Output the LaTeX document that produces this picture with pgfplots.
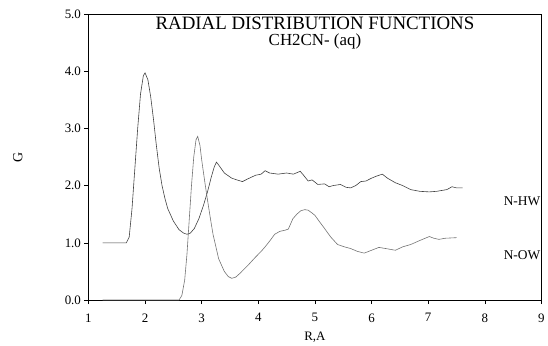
\documentclass[border=0pt]{standalone}
\usepackage{fontspec}
\setmainfont{Liberation Serif}
\usepackage{pgfplots}
\pgfplotsset{compat=1.18}
\begin{document}
\begin{tikzpicture}
\begin{axis}[
  width=456pt, height=288pt, scale only axis,
  xmin=1, xmax=9, ymin=0, ymax=5,
  xtick={1,...,9}, ytick={0,1,2,3,4,5},
  yticklabel style={/pgf/number format/.cd, fixed, fixed zerofill, precision=1},
  /pgf/number format/assume math mode=true,
  tick align=outside, xtick pos=bottom, ytick pos=left,
  major tick length=4pt,
  tick style={black, line width=0.5pt},
  axis line style={black, line width=0.5pt},
  ticklabel style={font=\fontsize{13}{14}\selectfont},
  xticklabel style={yshift=-6pt},
  xlabel={R,A}, ylabel={G},
  every axis x label/.style={at={(rel axis cs:0.5,0)}, anchor=center, yshift=-37pt, font=\fontsize{13}{14}\selectfont},
  every axis y label/.style={at={(rel axis cs:0,0.5)}, xshift=-71pt, anchor=center, rotate=90, font=\fontsize{14}{15}\selectfont},
  clip=false,
]
\addplot[black!75, line width=0.6pt] coordinates {
(1.25,1.0) (1.67,1.0) (1.72,1.1) (1.77,1.6) (1.82,2.3) (1.87,3.0) (1.92,3.6) (1.97,3.92) (2.0,3.97) (2.05,3.85) (2.1,3.55) (2.15,3.15) (2.2,2.7) (2.25,2.3) (2.3,2.0) (2.35,1.78) (2.4,1.6) (2.5,1.38) (2.6,1.23) (2.68,1.17) (2.74,1.15) (2.8,1.17) (2.87,1.25) (2.95,1.42) (3.03,1.65) (3.1,1.88) (3.17,2.15) (3.22,2.32) (3.26,2.41) (3.3,2.36) (3.4,2.22) (3.53,2.13) (3.62,2.1) (3.72,2.07) (3.82,2.12) (3.95,2.18) (4.05,2.2) (4.12,2.26) (4.2,2.22) (4.35,2.2) (4.5,2.22) (4.62,2.2) (4.74,2.25) (4.8,2.18) (4.88,2.08) (4.95,2.1) (5.05,2.02) (5.17,2.03) (5.25,1.98) (5.32,2.0) (5.45,2.02) (5.55,1.97) (5.63,1.96) (5.72,2.0) (5.81,2.07) (5.9,2.08) (6.0,2.13) (6.1,2.17) (6.19,2.2) (6.28,2.13) (6.42,2.05) (6.55,2.0) (6.69,1.93) (6.85,1.9) (7.02,1.89) (7.15,1.9) (7.33,1.93) (7.42,1.98) (7.5,1.96) (7.61,1.96)
};
\addplot[black!55, line width=0.6pt] coordinates {
(1.25,0) (2.6,0) (2.65,0.08) (2.7,0.35) (2.74,0.8) (2.78,1.4) (2.82,2.0) (2.86,2.5) (2.9,2.8) (2.93,2.86) (2.97,2.7) (3.0,2.45) (3.05,2.1) (3.09,1.83) (3.15,1.45) (3.2,1.15) (3.3,0.72) (3.4,0.5) (3.47,0.41) (3.53,0.38) (3.6,0.4) (3.68,0.47) (3.82,0.61) (3.95,0.75) (4.05,0.85) (4.12,0.93) (4.2,1.03) (4.29,1.15) (4.38,1.2) (4.47,1.22) (4.53,1.24) (4.61,1.42) (4.68,1.5) (4.75,1.56) (4.82,1.58) (4.88,1.57) (4.95,1.52) (5.0,1.48) (5.08,1.37) (5.17,1.25) (5.28,1.1) (5.4,0.97) (5.52,0.93) (5.63,0.9) (5.75,0.85) (5.87,0.82) (6.0,0.87) (6.13,0.92) (6.25,0.9) (6.42,0.87) (6.55,0.93) (6.69,0.97) (6.85,1.04) (7.02,1.11) (7.1,1.08) (7.19,1.06) (7.3,1.08) (7.5,1.09)
};
\node[font=\fontsize{19}{20}\selectfont, anchor=center] at (axis cs:5.0,4.84) {RADIAL DISTRIBUTION FUNCTIONS};
\node[font=\fontsize{17}{18}\selectfont, anchor=center] at (axis cs:5.0,4.52) {CH2CN- (aq)};
\node[font=\fontsize{13.5}{15}\selectfont, anchor=east, inner sep=1pt] at (axis cs:9.0,1.72) {N-HW};
\node[font=\fontsize{13.5}{15}\selectfont, anchor=east, inner sep=1pt] at (axis cs:9.0,0.78) {N-OW};
\end{axis}
\path (current axis.south west) ++(-89pt,-40pt) rectangle ++(548pt,342pt);
\end{tikzpicture}
\end{document}
